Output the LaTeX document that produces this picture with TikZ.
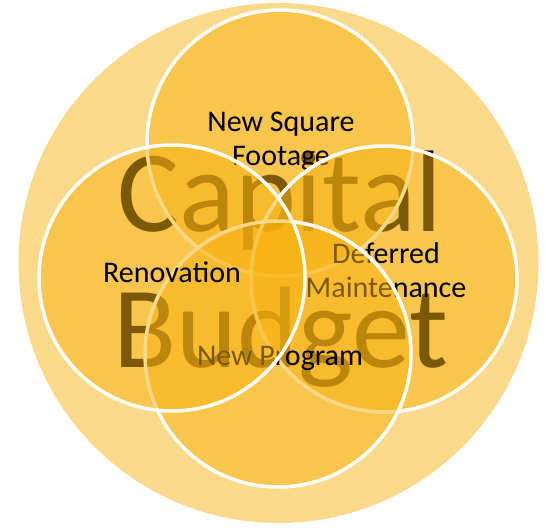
\documentclass[tikz,border=0pt]{standalone}
\usepackage{fontspec}
\setmainfont{Carlito}
\definecolor{ringgold}{RGB}{250,217,139}
\definecolor{petalgold}{RGB}{248,179,16}
\tikzset{
  petal/.style={circle, minimum size=266pt, inner sep=0pt, outer sep=0pt,
    fill=petalgold, fill opacity=0.5, draw=white, draw opacity=1, line width=3.5pt},
  petallabel/.style={font=\fontsize{30}{34}\selectfont, text=black, align=center, anchor=base, inner sep=0pt},
  bigword/.style={font=\fontsize{116}{136}\selectfont, text=black, anchor=base, inner sep=0pt}
}
\begin{document}
\begin{tikzpicture}[x=1pt, y=-1pt]
  \useasboundingbox (0,0) rectangle (546,530);
  % outer disc and the title beneath the petals
  \node[circle, minimum size=520pt, inner sep=0pt, fill=ringgold] (outer) at (278.5,263) {};
  \node[bigword] (cap) at (280,231) {Capital};
  \node[bigword] (bud) at (281,367) {Budget};
  % petals, each with its label, in stacking order
  % (the base anchor of a two-line label sits on its last line)
  \node[petal] (top) at (280,143) {};
  \node[petallabel] (toplabel) at (281,165) {New Square\\Footage};
  \node[petal] (right) at (384,279) {};
  \node[petallabel] (rightlabel) at (386,297) {Deferred\\Maintenance};
  \node[petal] (bottom) at (278,354) {};
  \node[petallabel] (bottomlabel) at (280,365) {New Program};
  \node[petal] (left) at (172,278) {};
  \node[petallabel] (leftlabel) at (172,282) {Renovation};
\end{tikzpicture}
\end{document}
